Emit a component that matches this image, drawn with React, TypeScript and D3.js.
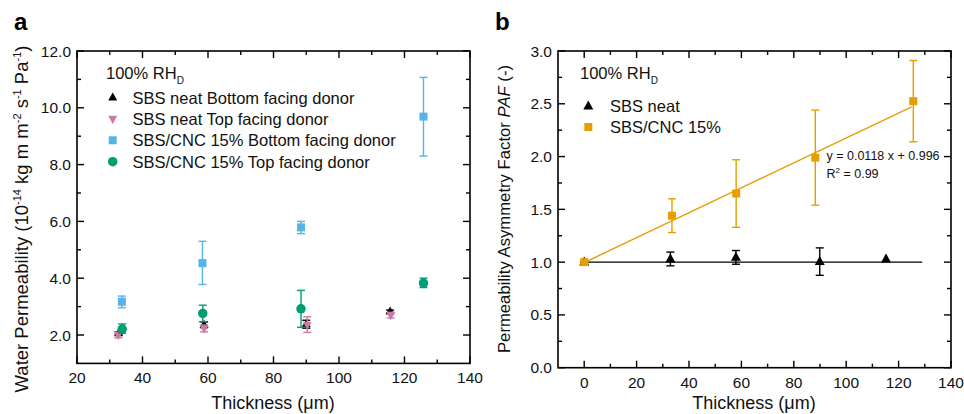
import React from "react";
import * as d3 from "d3";

// ---------- Panel a data ----------
const neatBottomX = [32.7, 58.8, 90.0, 115.6];
const neatBottomY = [2.06, 2.36, 2.38, 2.83];
const neatBottomLo = [0.05, 0.1, 0.14, 0.05];
const neatBottomHi = [0.05, 0.1, 0.14, 0.05];

const neatTopX = [32.6, 58.8, 90.3, 115.8];
const neatTopY = [2.0, 2.23, 2.36, 2.7];
const neatTopLo = [0.1, 0.12, 0.27, 0.1];
const neatTopHi = [0.1, 0.12, 0.28, 0.1];

const cncBottomX = [33.7, 58.3, 88.4, 125.8];
const cncBottomY = [3.17, 4.53, 5.79, 9.69];
const cncBottomLo = [0.21, 0.75, 0.22, 1.39];
const cncBottomHi = [0.2, 0.77, 0.21, 1.38];

const cncTopX = [33.8, 58.4, 88.4, 125.8];
const cncTopY = [2.21, 2.76, 2.92, 3.83];
const cncTopLo = [0.15, 0.29, 0.65, 0.16];
const cncTopHi = [0.18, 0.29, 0.65, 0.17];

const aXTicks = [20, 40, 60, 80, 100, 120, 140];
const aXMinor = [30, 50, 70, 90, 110, 130];
const aYTicks = [2, 4, 6, 8, 10, 12];
const aYMinor = [3, 5, 7, 9, 11];

const aLegend = [
  "SBS neat Bottom facing donor",
  "SBS neat Top facing donor",
  "SBS/CNC 15% Bottom facing donor",
  "SBS/CNC 15% Top facing donor",
];

// ---------- Panel b data ----------
const pafNeatX = [0, 32.9, 57.9, 89.9, 115.2];
const pafNeatY = [1.0, 1.03, 1.045, 1.005, 1.03];
const pafNeatErr = [0, 0.065, 0.065, 0.13, 0];

const pafCncX = [0, 33.5, 58.0, 88.2, 125.6];
const pafCncY = [1.0, 1.44, 1.65, 1.99, 2.525];
const pafCncLo = [0, 0.16, 0.32, 0.45, 0.385];
const pafCncHi = [0, 0.16, 0.32, 0.45, 0.385];

const fitSlope = 0.0118;
const fitIntercept = 0.996;
const fitRange = [0, 125];
const neatLineRange = [-1.6, 129];
const neatLineValue = 1.0;

const bXTicks = [0, 20, 40, 60, 80, 100, 120, 140];
const bXMinor = [10, 30, 50, 70, 90, 110, 130];
const bYTicks = [0, 0.5, 1.0, 1.5, 2.0, 2.5, 3.0];
const bYMinor = [0.25, 0.75, 1.25, 1.75, 2.25, 2.75];

const bLegend = ["SBS neat", "SBS/CNC 15%"];

const BLACK = "#000000";
const PINK = "#CC79A7";
const BLUE = "#56B4E9";
const GREEN = "#009E73";
const ORANGE = "#E69F00";

const FONT = "'Liberation Sans', Arial, Helvetica, sans-serif";

type Marker = "tri" | "itri" | "sq" | "circ";

function MarkerShape({ type, x, y, s, color }: { type: Marker; x: number; y: number; s: number; color: string }) {
  if (type === "tri") {
    const h = s * 0.9;
    return <path d={`M${x},${y - h * 0.62}L${x + s / 2},${y + h * 0.38}L${x - s / 2},${y + h * 0.38}Z`} fill={color} />;
  }
  if (type === "itri") {
    const h = s * 0.9;
    return <path d={`M${x},${y + h * 0.62}L${x + s / 2},${y - h * 0.38}L${x - s / 2},${y - h * 0.38}Z`} fill={color} />;
  }
  if (type === "sq") {
    return <rect x={x - s / 2} y={y - s / 2} width={s} height={s} fill={color} />;
  }
  return <circle cx={x} cy={y} r={s / 2} fill={color} />;
}

function ErrBar({ x, y0, y1, color, cap = 4 }: { x: number; y0: number; y1: number; color: string; cap?: number }) {
  return (
    <g stroke={color} strokeWidth={1.4} fill="none">
      <line x1={x} x2={x} y1={y0} y2={y1} />
      <line x1={x - cap} x2={x + cap} y1={y0} y2={y0} />
      <line x1={x - cap} x2={x + cap} y1={y1} y2={y1} />
    </g>
  );
}

function Frame({
  x,
  y,
  xt,
  xm,
  yt,
  ym,
  fmtX,
  fmtY,
}: {
  x: d3.ScaleLinear<number, number>;
  y: d3.ScaleLinear<number, number>;
  xt: number[];
  xm: number[];
  yt: number[];
  ym: number[];
  fmtX: (v: number) => string;
  fmtY: (v: number) => string;
}) {
  const [x0, x1] = x.range();
  const [yb, yt0] = y.range();
  const MJ = 7;
  const MN = 4;
  return (
    <g>
      {xt.map((v) => (
        <g key={"xt" + v}>
          <line x1={x(v)} x2={x(v)} y1={yb} y2={yb - MJ} stroke="#000" strokeWidth={1.4} />
          <line x1={x(v)} x2={x(v)} y1={yt0} y2={yt0 + MJ} stroke="#000" strokeWidth={1.4} />
          <text x={x(v)} y={yb + 20} textAnchor="middle" fontSize={15.5} fontFamily={FONT} fill="#111">
            {fmtX(v)}
          </text>
        </g>
      ))}
      {xm.map((v) => (
        <g key={"xm" + v}>
          <line x1={x(v)} x2={x(v)} y1={yb} y2={yb - MN} stroke="#000" strokeWidth={1.4} />
          <line x1={x(v)} x2={x(v)} y1={yt0} y2={yt0 + MN} stroke="#000" strokeWidth={1.4} />
        </g>
      ))}
      {yt.map((v) => (
        <g key={"yt" + v}>
          <line x1={x0} x2={x0 + MJ} y1={y(v)} y2={y(v)} stroke="#000" strokeWidth={1.4} />
          <line x1={x1} x2={x1 - MJ} y1={y(v)} y2={y(v)} stroke="#000" strokeWidth={1.4} />
          <text x={x0 - 6} y={y(v) + 5.5} textAnchor="end" fontSize={15.5} fontFamily={FONT} fill="#111">
            {fmtY(v)}
          </text>
        </g>
      ))}
      {ym.map((v) => (
        <g key={"ym" + v}>
          <line x1={x0} x2={x0 + MN} y1={y(v)} y2={y(v)} stroke="#000" strokeWidth={1.4} />
          <line x1={x1} x2={x1 - MN} y1={y(v)} y2={y(v)} stroke="#000" strokeWidth={1.4} />
        </g>
      ))}
      <rect x={x0} y={yt0} width={x1 - x0} height={yb - yt0} fill="none" stroke="#000" strokeWidth={1.6} />
    </g>
  );
}

function Series({
  xs,
  ys,
  lo,
  hi,
  x,
  y,
  color,
  type,
  size,
}: {
  xs: number[];
  ys: number[];
  lo: number[];
  hi: number[];
  x: d3.ScaleLinear<number, number>;
  y: d3.ScaleLinear<number, number>;
  color: string;
  type: Marker;
  size: number;
}) {
  return (
    <g>
      {xs.map((xv, i) => (
        <g key={i}>
          {lo[i] + hi[i] > 0 && <ErrBar x={x(xv)} y0={y(ys[i] - lo[i])} y1={y(ys[i] + hi[i])} color={color} />}
          <MarkerShape type={type} x={x(xv)} y={y(ys[i])} s={size} color={color} />
        </g>
      ))}
    </g>
  );
}

export default function App() {
  const xA = d3.scaleLinear().domain([20, 140]).range([77, 470]);
  const yA = d3.scaleLinear().domain([1, 12]).range([363.4, 51]);
  const xB = d3.scaleLinear().domain([-10, 140]).range([558, 951]);
  const yB = d3.scaleLinear().domain([0, 3]).range([367.7, 51]);

  const fitLine = d3
    .line<number>()
    .x((d) => xB(d))
    .y((d) => yB(fitSlope * d + fitIntercept));
  const neatLine = d3
    .line<number>()
    .x((d) => xB(d))
    .y(() => yB(neatLineValue));

  const aColors = [BLACK, PINK, BLUE, GREEN];
  const aTypes: Marker[] = ["tri", "itri", "sq", "circ"];
  const aSizes = [9, 9, 8, 9.5];

  return (
    <svg width={964} height={414} style={{ display: "block", position: "absolute", left: 0, top: 0 }} fontFamily={FONT}>
      <rect width={964} height={414} fill="#fff" />
      {/* Panel labels */}
      <text x={14} y={30} fontSize={24} fontWeight="bold" fill="#000">
        a
      </text>
      <text x={495} y={30} fontSize={24} fontWeight="bold" fill="#000">
        b
      </text>

      {/* ===== Panel a ===== */}
      <Frame
        x={xA}
        y={yA}
        xt={aXTicks}
        xm={aXMinor}
        yt={aYTicks}
        ym={aYMinor}
        fmtX={(v) => String(v)}
        fmtY={(v) => d3.format(".1f")(v)}
      />
      <Series xs={neatBottomX} ys={neatBottomY} lo={neatBottomLo} hi={neatBottomHi} x={xA} y={yA} color={BLACK} type="tri" size={9} />
      <Series xs={neatTopX} ys={neatTopY} lo={neatTopLo} hi={neatTopHi} x={xA} y={yA} color={PINK} type="itri" size={9} />
      <Series xs={cncBottomX} ys={cncBottomY} lo={cncBottomLo} hi={cncBottomHi} x={xA} y={yA} color={BLUE} type="sq" size={8} />
      <Series xs={cncTopX} ys={cncTopY} lo={cncTopLo} hi={cncTopHi} x={xA} y={yA} color={GREEN} type="circ" size={9.5} />

      <text x={106} y={79} fontSize={16.5} fill="#111">
        100% RH
        <tspan fontSize={10} dy={5}>
          D
        </tspan>
      </text>
      {aLegend.map((t, i) => (
        <g key={t}>
          <MarkerShape type={aTypes[i]} x={112.7} y={97.5 + i * 21.4} s={aSizes[i]} color={aColors[i]} />
          <text x={132.5} y={103.5 + i * 21.4} fontSize={16.5} fill="#111">
            {t}
          </text>
        </g>
      ))}

      <text x={273} y={409} textAnchor="middle" fontSize={18} fill="#111">
        Thickness (μm)
      </text>
      <text transform="translate(28,219) rotate(-90)" textAnchor="middle" fontSize={18.5} fill="#111">
        Water Permeability (10
        <tspan fontSize={11} dy={-7}>
          -14
        </tspan>
        <tspan dy={7}> kg m m</tspan>
        <tspan fontSize={11} dy={-7}>
          -2
        </tspan>
        <tspan dy={7}> s</tspan>
        <tspan fontSize={11} dy={-7}>
          -1
        </tspan>
        <tspan dy={7}> Pa</tspan>
        <tspan fontSize={11} dy={-7}>
          -1
        </tspan>
        <tspan dy={7}>)</tspan>
      </text>

      {/* ===== Panel b ===== */}
      <Frame
        x={xB}
        y={yB}
        xt={bXTicks}
        xm={bXMinor}
        yt={bYTicks}
        ym={bYMinor}
        fmtX={(v) => String(v)}
        fmtY={(v) => d3.format(".1f")(v)}
      />
      <path d={neatLine(neatLineRange) ?? ""} stroke={BLACK} strokeWidth={1.4} fill="none" />
      <path d={fitLine(fitRange) ?? ""} stroke={ORANGE} strokeWidth={1.4} fill="none" />
      <Series xs={pafNeatX} ys={pafNeatY} lo={pafNeatErr} hi={pafNeatErr} x={xB} y={yB} color={BLACK} type="tri" size={10} />
      <Series xs={pafCncX} ys={pafCncY} lo={pafCncLo} hi={pafCncHi} x={xB} y={yB} color={ORANGE} type="sq" size={8} />

      <text x={580} y={79} fontSize={16.5} fill="#111">
        100% RH
        <tspan fontSize={10} dy={5}>
          D
        </tspan>
      </text>
      {bLegend.map((t, i) => (
        <g key={t}>
          <MarkerShape type={i === 0 ? "tri" : "sq"} x={588.3} y={106 + i * 21} s={i === 0 ? 10 : 8} color={i === 0 ? BLACK : ORANGE} />
          <text x={610} y={112 + i * 21} fontSize={16.5} fill="#111">
            {t}
          </text>
        </g>
      ))}

      <text x={826.5} y={160} fontSize={12.5} fill="#111">
        y = 0.0118 x + 0.996
      </text>
      <text x={826.5} y={177.5} fontSize={12.5} fill="#111">
        R
        <tspan fontSize={8} dy={-5}>
          2
        </tspan>
        <tspan dy={5}> = 0.99</tspan>
      </text>

      <text x={754} y={409} textAnchor="middle" fontSize={18} fill="#111">
        Thickness (μm)
      </text>
      <text transform="translate(510,209) rotate(-90)" textAnchor="middle" fontSize={16.7} fill="#111">
        Permeability Asymmetry Factor <tspan fontStyle="italic">PAF</tspan> (-)
      </text>
    </svg>
  );
}
